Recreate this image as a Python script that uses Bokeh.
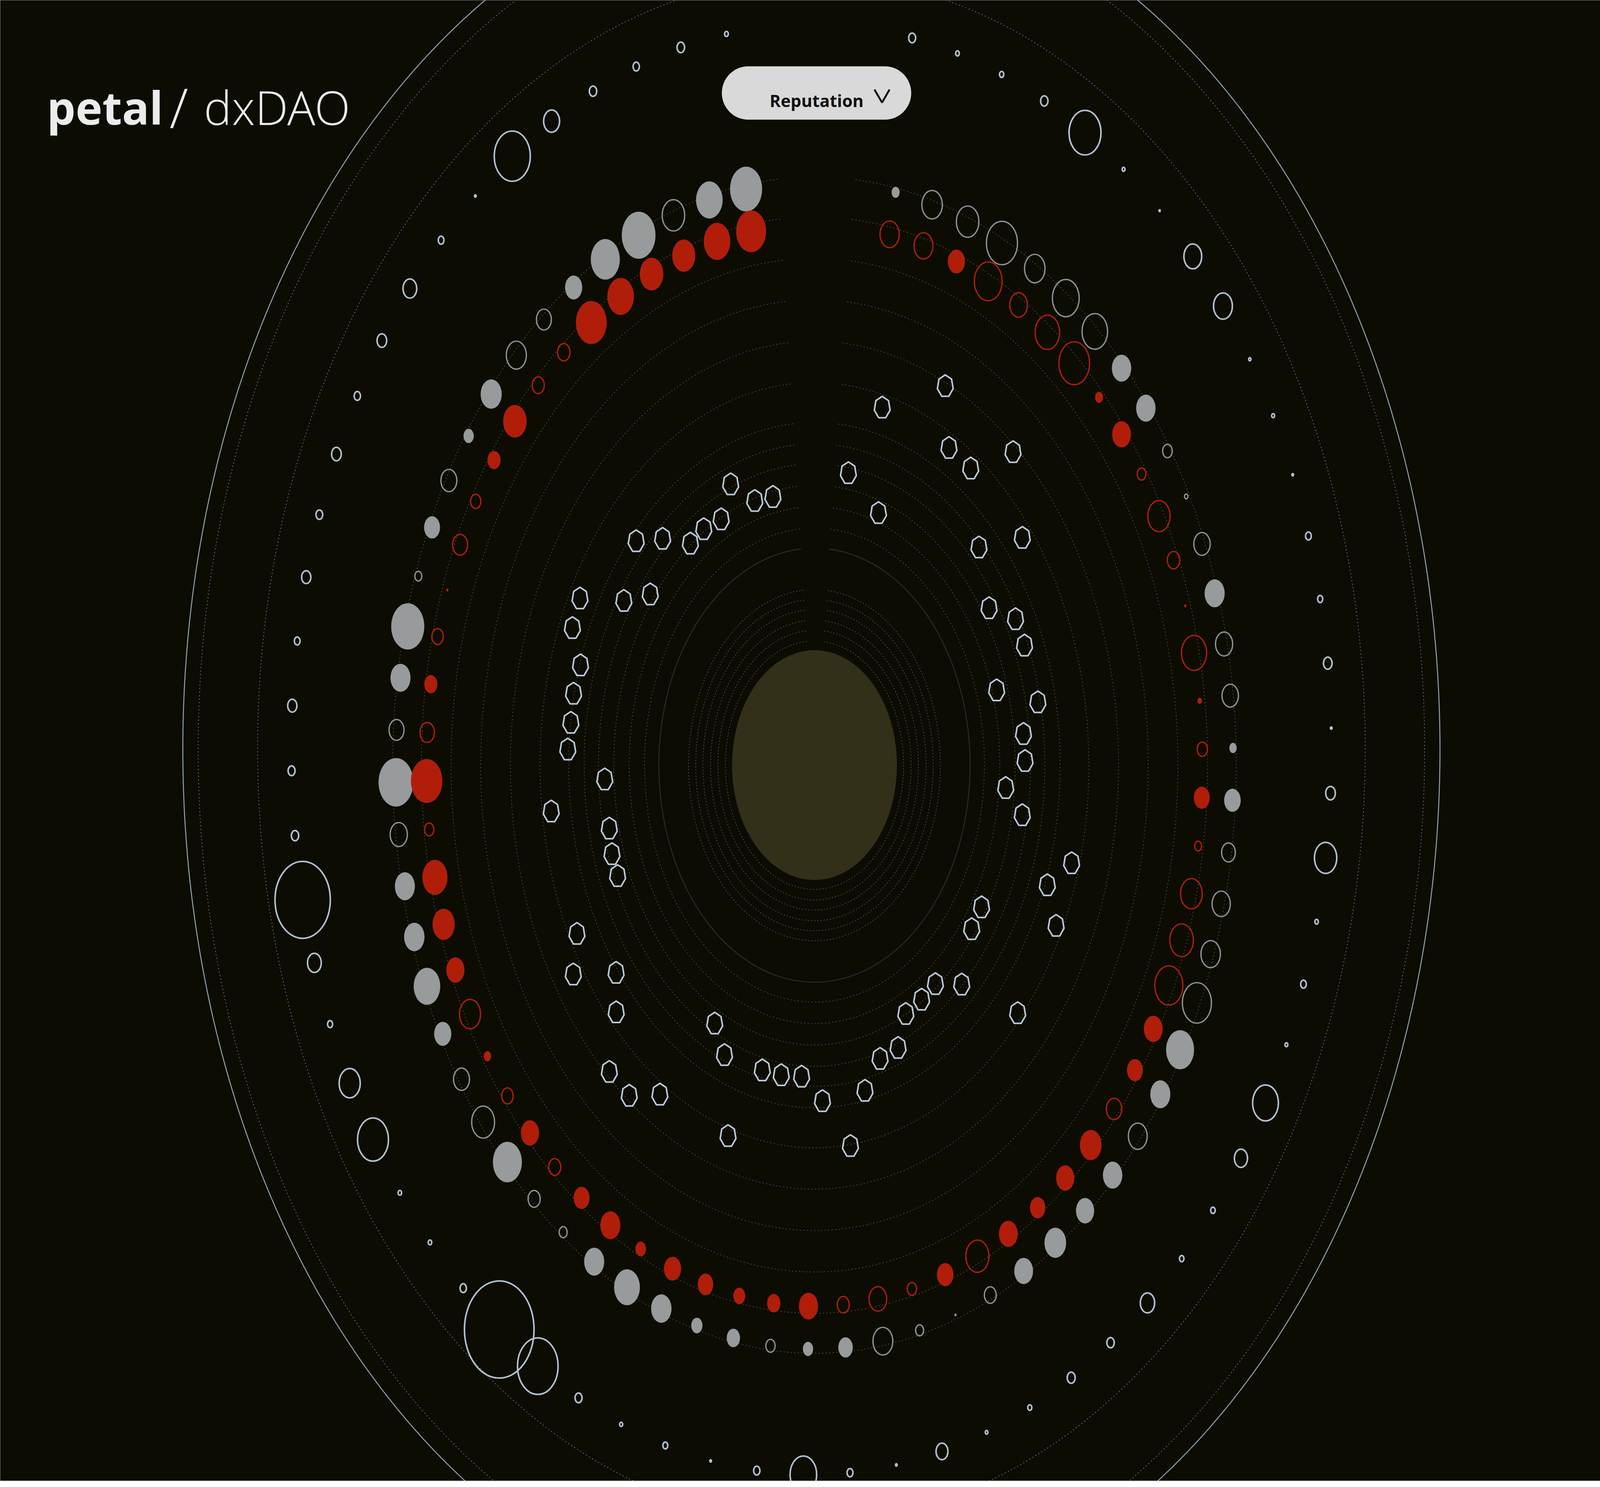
import numpy as np
from bokeh.plotting import figure
from bokeh.models import Range1d, BoxAnnotation, Label
from bokeh.embed import file_html
from bokeh.resources import INLINE

## Couleurs
BG = "#0c0c02"
CORE = "#33301a"
GREY = "#979b9b"
GREY_LINE = "#8d9292"
RED = "#b01e0a"
OUTER = "#b3c1cf"
HEX = "#bccad8"

## Données
# 67 membres placés sur 70 positions angulaires égales (3 vides en haut)
n_slots = 70
start_deg = 99.4

# anneau gris (réputation) : rayon du cercle et type plein (1) / contour (0)
grey_size = [15.7, 13, 11, 16.5, 14.2, 8.4, 7.3, 9.8, 10.3, 5,
             7.8, 7.8, 3.4, 16.2, 9.8, 7.3, 17, 8.4, 9.8, 10,
             13, 8.4, 7.8, 11.2, 14.2, 5.9, 3.9, 9.8, 12.6, 10,
             5.5, 6.5, 4.5, 5, 7.1, 9.7, 3.9, 1, 5.8, 9.2,
             10.6, 8.9, 9.5, 9.2, 9.8, 13.7, 14.2, 9.5, 8.9, 6.7,
             8.1, 3.6, 8, 8.4, 9.8, 8, 1.7, 4.7, 9.5, 9.5,
             12.5, 13.1, 10, 15.2, 11, 10, 3.9]
grey_filled = [1, 1, 0, 1, 1, 1, 0, 0, 1, 1,
               0, 1, 0, 1, 1, 0, 1, 0, 1, 1,
               1, 1, 0, 0, 1, 0, 0, 1, 1, 1,
               1, 1, 0, 1, 1, 0, 0, 1, 0, 1,
               1, 1, 1, 0, 1, 1, 0, 0, 0, 0,
               1, 1, 0, 0, 1, 0, 0, 0, 1, 1,
               0, 0, 0, 0, 0, 0, 1]

# anneau rouge
red_size = [14.7, 13, 11.3, 11.5, 13, 15.1, 6.1, 5.9, 11.5, 6.4,
            5, 7.3, 1.1, 5.6, 6.4, 7, 15.4, 4.5, 12.3, 10.9,
            8.9, 10.3, 3.6, 5.6, 8.9, 5.9, 7.8, 9.8, 5.2, 8.4,
            7.6, 5.8, 6.5, 9.4, 5.8, 8.6, 4.5, 8.1, 11.3, 9.2,
            7.5, 8.9, 10.6, 7.5, 7.8, 9.2, 13.7, 11.5, 10.6, 3.4,
            7.8, 5, 2.2, 12.3, 1.1, 6.1, 10.9, 4.2, 9.2, 3.9,
            15, 12, 8.6, 13.6, 8.4, 9.2, 9.4]
red_filled = [1, 1, 1, 1, 1, 1, 0, 0, 1, 1,
              0, 0, 1, 0, 1, 0, 1, 0, 1, 1,
              1, 0, 1, 0, 1, 0, 1, 1, 1, 1,
              1, 1, 1, 1, 0, 0, 0, 1, 0, 1,
              1, 1, 1, 0, 1, 1, 0, 0, 0, 0,
              1, 0, 1, 0, 1, 0, 0, 0, 1, 1,
              0, 0, 0, 0, 1, 0, 0]

# anneau extérieur (cercles bleutés)
outer_size = [1.8, 3.7, 3.1, 3.6, 7.8, 17.6, 0.8, 2.8, 6.7, 4.7,
              3.1, 4.7, 3.3, 4.5, 2.8, 4.5, 3.4, 3.6, 27, 6.7,
              2.5, 10.3, 15.1, 1.7, 1.7, 3.1, 34, 19.8, 3.4, 1.5,
              2.4, 0.8, 3.1, 13, 2.9, 0.8, 5.8, 1.3, 2, 3.9,
              3.6, 7, 2.2, 2.2, 6.4, 12.6, 1.4, 2.8, 1.7, 10.9,
              4.7, 0.8, 4.2, 2.5, 2.8, 0.8, 1.4, 1.1, 9.2, 8.7,
              0.6, 1.4, 15.6, 3.6, 2.1, 1.8, 3.4]

# heptagones intérieurs : angle (deg) et rayon
hex_angle = [102.2, 107.5, 112.6, 117.9, 123.2, 128.0, 133.1, 138.0, 143.3, 148.3,
             153.0, 157.9, 163.0, 168.0, 172.9, 177.4, 182.8, 187.2, 192.5, 197.5,
             202.0, 207.0, 211.9, 216.9, 221.8, 227.0, 232.0, 236.8, 241.7, 246.6,
             252.0, 256.6, 261.5, 266.7, 271.9, 277.5, 282.2, 287.3, 292.4, 297.1,
             302.5, 307.6, 313.1, 318.8, 323.2, 328.6, 334.5, 339.7, 344.7, 350.2,
             355.1, 0.8, 6.1, 11.4, 16.4, 22.2, 27.5, 32.8, 38.1, 43.5,
             48.5, 53.7, 59.4, 64.3, 70.5, 75.2, 80.8]
hex_radius = [192.2, 194.0, 213.0, 194.8, 197.5, 196.9, 217.1, 234.4, 200.1, 218.9,
              257.1, 255.2, 239.0, 240.6, 239.8, 241.2, 205.1, 259.2, 205.3, 207.4,
              207.4, 260.4, 277.5, 242.3, 259.8, 293.8, 293.9, 275.8, 205.6, 221.3,
              273.2, 219.8, 219.6, 218.6, 235.5, 269.1, 233.4, 215.5, 214.3, 195.8,
              194.8, 193.6, 210.5, 263.8, 191.8, 191.2, 261.5, 242.5, 260.4, 206.0,
              187.5, 205.7, 205.3, 222.6, 185.5, 221.6, 221.4, 202.9, 258.0, 221.5,
              292.7, 257.8, 258.1, 294.6, 187.3, 259.0, 207.2]

# anneaux de repère
grey_ring = 409
red_ring = 379
outer_ring = 508
ring_dotted = [412, 384, 355, 326, 297, 268, 240, 225, 211, 196, 181, 166]
ring_solid = [152]
ring_core = [123, 116, 109, 101.5, 94.4, 87]
outer_dotted = [599, 541]
outer_solid = [614]
core_radius = 80.5
hept_radius = 7.9


def polar(cx, cy, r, deg):
    a = np.deg2rad(np.asarray(deg, dtype=float))
    return cx + np.asarray(r, dtype=float) * np.cos(a), cy + np.asarray(r, dtype=float) * np.sin(a)


def rings(cx, cy, radii, t):
    return [list(cx + r * np.cos(t)) for r in radii], [list(cy + r * np.sin(t)) for r in radii]


OCX, OCY = -3, 11  # centre du calque extérieur

# la largeur suit la fenêtre, les tailles sont en unités de données
p = figure(sizing_mode="stretch_width", height=3790,
           x_range=Range1d(-795.4, 767.5), y_range=Range1d(-501.4, 535.8),
           x_axis_location=None, y_axis_location=None, output_backend="svg", toolbar_location=None)
p.grid.visible = False
p.outline_line_color = None
p.background_fill_color = BG
p.border_fill_color = BG
p.min_border = 0

#### Anneaux
t_full = np.linspace(0, 2 * np.pi, 720)
t_gap = np.deg2rad(np.linspace(95.0, 444.6, 700))   # ouverture en haut

xs, ys = rings(OCX, OCY, outer_solid, t_full)
p.multi_line(xs, ys, line_color="#8e9dab", line_width=2.6)
xs, ys = rings(OCX, OCY, outer_dotted, t_full)
p.multi_line(xs, ys, line_color="#6c7068", line_width=2, line_dash="3 6")
xs, ys = rings(0, 0, ring_dotted, t_gap)
p.multi_line(xs, ys, line_color="#4c4b37", line_width=2, line_dash="3 6")
xs, ys = rings(0, 0, ring_solid, t_gap)
p.multi_line(xs, ys, line_color="#2b2b1d", line_width=2.6)
xs, ys = rings(0, 0, ring_core, t_gap)
p.multi_line(xs, ys, line_color="#504d31", line_width=2, line_dash="3 5")
p.ellipse(x=0, y=0, width=2 * core_radius, height=2 * core_radius, fill_color=CORE, line_color=None)

#### Cercles extérieurs
slot_deg = start_deg + np.arange(len(grey_size)) * 360 / n_slots
ox, oy = polar(OCX, OCY, outer_ring, slot_deg)
od = 2 * np.array(outer_size)
p.ellipse(x=ox, y=oy, width=od, height=od, fill_color=None, line_color=OUTER, line_width=4)

#### Anneau gris
gx, gy = polar(0, 0, grey_ring, slot_deg)
gf = np.array(grey_filled) == 1
gd = 2 * np.array(grey_size)
p.ellipse(x=gx[gf], y=gy[gf], width=gd[gf], height=gd[gf], fill_color=GREY, line_color=None)
p.ellipse(x=gx[~gf], y=gy[~gf], width=gd[~gf], height=gd[~gf], fill_color=None,
          line_color=GREY_LINE, line_width=3.4)

#### Anneau rouge
rx, ry = polar(0, 0, red_ring, slot_deg)
rf = np.array(red_filled) == 1
rd = 2 * np.array(red_size)
p.ellipse(x=rx[rf], y=ry[rf], width=rd[rf], height=rd[rf], fill_color=RED, line_color=None)
p.ellipse(x=rx[~rf], y=ry[~rf], width=rd[~rf], height=rd[~rf], fill_color=None,
          line_color=RED, line_width=3.4)

#### Heptagones
hx, hy = polar(0, 0, hex_radius, hex_angle)
k = np.deg2rad(np.arange(7) * 360 / 7 + 90)
hxs = [list(x + hept_radius * np.cos(k)) for x in hx]
hys = [list(y + hept_radius * np.sin(k)) for y in hy]
p.patches(hxs, hys, fill_color=None, line_color=HEX, line_width=4)

#### En-tête
button = BoxAnnotation(left=-90.5, right=94.5, bottom=452.1, top=489.5, fill_color="#d9d9d9", fill_alpha=1,
                       line_color=None, border_radius=68, level="underlay")
p.add_layout(button)
p.line(x=[58.6, 66, 73.3], y=[473.2, 464.1, 473.2], line_color="#111111", line_width=5)
p.add_layout(Label(x=-43.8, y=465.5, text="Reputation", text_font="Open Sans", text_font_style="bold",
                   text_font_size="43px", text_color="#111111", text_baseline="alphabetic"))

light = "Open Sans Light, Lato Light, DejaVu Sans Light, Open Sans"
p.add_layout(Label(x=-749.8, y=461, text="petal", text_font="Open Sans", text_font_style="bold",
                   text_font_size="116px", text_color="#ececec", text_baseline="alphabetic"))
p.add_layout(Label(x=-630, y=461, text="/", text_font=light,
                   text_font_size="140px", text_color="#ececec", text_baseline="alphabetic"))
p.add_layout(Label(x=-596.5, y=461, text="dxDAO", text_font=light,
                   text_font_size="120px", text_color="#ececec", text_baseline="alphabetic"))

open("out.html", "w").write(file_html(p, INLINE))
